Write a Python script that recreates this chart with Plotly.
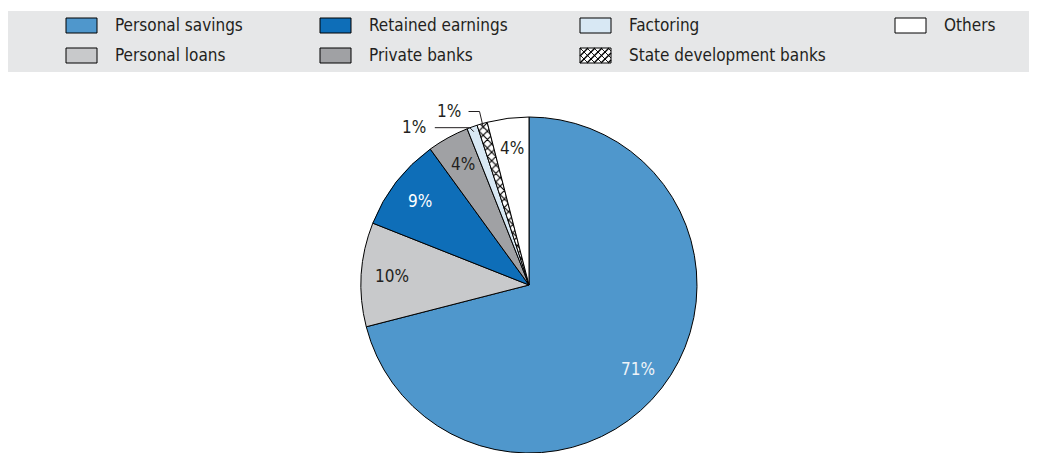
import math

import plotly.graph_objects as go

# data
labels = [
    "Personal savings",
    "Personal loans",
    "Retained earnings",
    "Private banks",
    "Factoring",
    "State development banks",
    "Others",
]
shares = [71, 10, 9, 4, 1, 1, 4]
colors = ["#4f97cc", "#c8c9cb", "#0e6eb8", "#a0a1a4", "#d8e8f4", "#ffffff", "#ffffff"]
text_colors = ["#eef3f8", "#231f20", "#ffffff", "#231f20", "#231f20", "#231f20", "#231f20"]
patterns = ["", "", "", "", "", "x", ""]

# legend order (row-major, 4 columns)
legend_rows = [
    ["Personal savings", "Retained earnings", "Factoring", "Others"],
    ["Personal loans", "Private banks", "State development banks"],
]

W, H = 1037, 453
OFF = 8  # page body margin
FONT = "Liberation Sans Narrow, Arial Narrow, DejaVu Sans Condensed, sans-serif"
INK = "#231f20"
FS = 17

# pie placement (screen pixels)
CX, CY, R = 529, 285, 168


def px(x):
    return (x - OFF) / W


def py(y):
    return 1 - (y - OFF) / H


small = [s <= 1 for s in shares]

fig = go.Figure(
    go.Pie(
        labels=labels,
        values=shares,
        sort=False,
        direction="clockwise",
        rotation=0,
        textinfo="none",
        marker=dict(
            colors=colors,
            line=dict(color="#000000", width=1),
            pattern=dict(shape=patterns, fgcolor="#000000", bgcolor="#ffffff",
                         size=6, solidity=0.35),
        ),
        domain=dict(x=[px(CX - R), px(CX + R)], y=[py(CY + R), py(CY - R)]),
        showlegend=False,
        hoverinfo="label+percent",
    )
)

shapes = [
    # grey legend band
    dict(type="rect", xref="paper", yref="paper", x0=0, x1=1, y0=py(72), y1=py(11),
         fillcolor="#e6e7e8", line=dict(width=0), layer="below"),
]
annotations = []

col_x = [66, 320, 580, 895]
row_y = [25.5, 55.5]
for r, row in enumerate(legend_rows):
    for c, name in enumerate(row):
        i = labels.index(name)
        x0, y0 = col_x[c], row_y[r] - 7.5
        shapes.append(dict(type="rect", xref="paper", yref="paper",
                           x0=px(x0), x1=px(x0 + 31), y0=py(y0 + 15), y1=py(y0),
                           fillcolor=colors[i], line=dict(color="#000000", width=1)))
        if patterns[i]:
            # cross-hatch for the swatch, clipped to the box
            for k in range(-3, 8):
                a = x0 + k * 7
                for sgn in (1, -1):
                    xs, xe = (a, a + 15) if sgn == 1 else (a + 15, a)
                    pts = []
                    for t in [j / 60 for j in range(61)]:
                        xx = xs + (xe - xs) * t
                        if x0 <= xx <= x0 + 31:
                            pts.append((xx, y0 + 15 * t))
                    if len(pts) >= 2:
                        shapes.append(dict(type="line", xref="paper", yref="paper",
                                           x0=px(pts[0][0]), y0=py(pts[0][1]),
                                           x1=px(pts[-1][0]), y1=py(pts[-1][1]),
                                           line=dict(color="#000000",
                                                     width=1.4 if sgn == -1 else 0.9)))
        annotations.append(dict(text=name, xref="paper", yref="paper",
                                x=px(x0 + 47), y=py(row_y[r]), xanchor="left", yanchor="middle",
                                showarrow=False, font=dict(family=FONT, size=FS, color=INK)))

# slice labels: inside ones along the mid-angle, tiny ones outside with elbow leaders
leader = {  # (elbow dx, elbow dy, line length, text gap) relative to the slice tip
    "Factoring": (-4, -4, 35, 7),
    "State development banks": (-4, -17, 11, 6),
}
total = sum(shares)
cum = 0
for i, v in enumerate(shares):
    mid = (cum + v / 2) / total * 2 * math.pi
    cum += v
    s, c = math.sin(mid), math.cos(mid)
    if not small[i]:
        rr = 0.82 * R
        annotations.append(dict(text=f"{v}%", xref="paper", yref="paper",
                                x=px(CX + rr * s), y=py(CY - rr * c),
                                xanchor="center", yanchor="middle", showarrow=False,
                                font=dict(family=FONT, size=FS, color=text_colors[i])))
        continue
    tx, ty = CX + 0.97 * R * s, CY - 0.97 * R * c
    edx, edy, length, gap = leader[labels[i]]
    ex, ey = tx + edx, ty + edy
    sx = ex - length
    shapes.append(dict(type="path", xref="paper", yref="paper",
                       path=f"M{px(sx)},{py(ey)} L{px(ex)},{py(ey)} L{px(tx)},{py(ty)}",
                       line=dict(color=INK, width=1)))
    annotations.append(dict(text=f"{v}%", xref="paper", yref="paper",
                            x=px(sx - gap), y=py(ey - 1), xanchor="right", yanchor="middle",
                            showarrow=False, font=dict(family=FONT, size=FS, color=INK)))

fig.update_layout(
    width=W,
    height=H,
    margin=dict(l=0, r=0, t=0, b=0),
    paper_bgcolor="#ffffff",
    plot_bgcolor="#ffffff",
    font=dict(family=FONT, size=FS, color=INK),
    shapes=shapes,
    annotations=annotations,
)

fig.write_html("out.html", post_script="document.body.style.overflow = 'hidden';")
